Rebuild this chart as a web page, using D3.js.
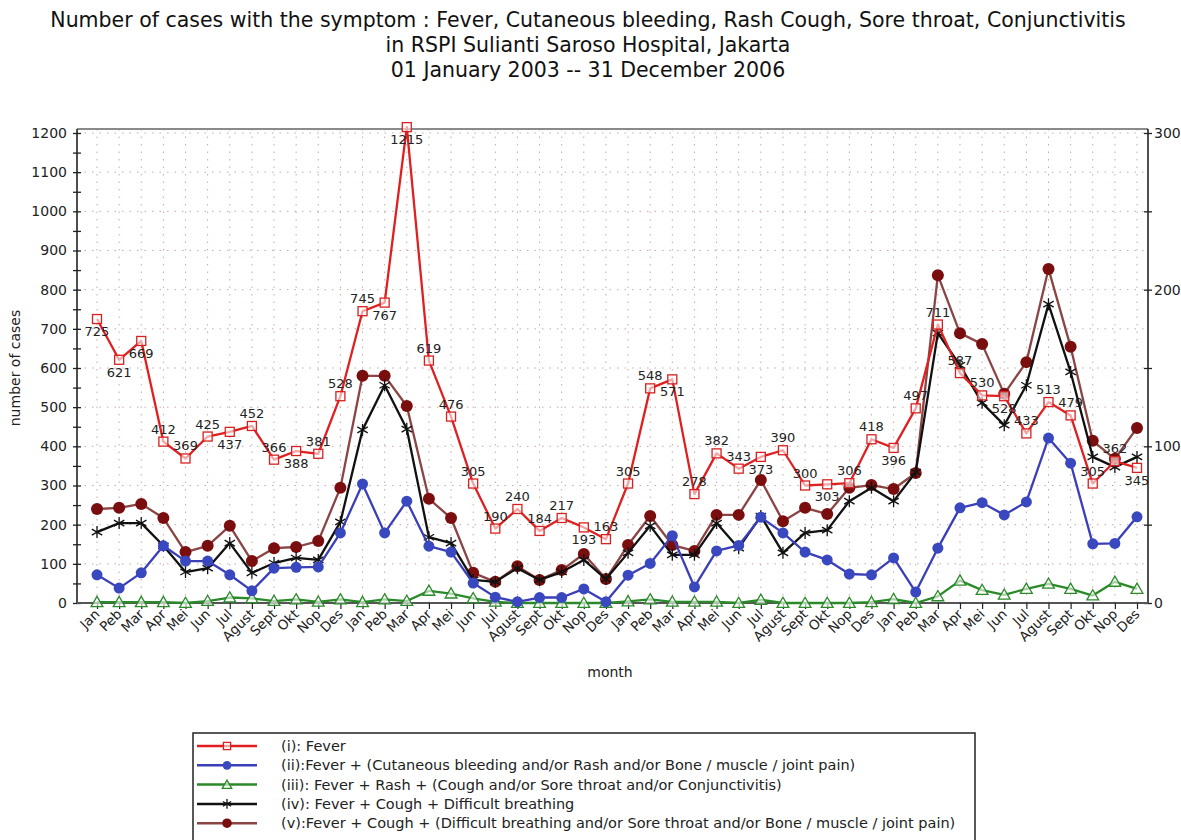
<!DOCTYPE html>
<html>
<head>
<meta charset="utf-8">
<script src="https://cdn.jsdelivr.net/npm/d3@7"></script>
<style>
  html, body { margin: 0; padding: 0; background: #fff; }
  svg { display: block; font-family: "DejaVu Sans", Verdana, sans-serif; }
</style>
</head>
<body>
<svg id="chart" width="1181" height="840"></svg>
<script>
// ---------- data ----------
const monthNames = ["Jan","Peb","Mar","Apr","Mei","Jun","Jul","Agust","Sept","Okt","Nop","Des"];
const years = [2003, 2004, 2005, 2006];
const categories = years.flatMap(y => monthNames.map(m => m + " " + y));

const seriesFever = [725,621,669,412,369,425,437,452,366,388,381,528,
                     745,767,1215,619,476,305,190,240,184,217,193,163,
                     305,548,571,278,382,343,373,390,300,303,306,418,
                     396,497,711,587,530,528,433,513,479,305,362,345];
const seriesBleeding = [72,38,77,146,107,107,72,31,89,91,92,179,
                        304,179,260,145,130,51,15,3,14,14,36,3,
                        71,101,172,41,133,147,219,179,130,110,74,72,
                        115,28,140,243,256,225,258,421,357,151,152,220];
const seriesRash = [2,2,2,2,0,5,14,12,5,9,3,9,
                    2,9,5,31,24,12,3,0,0,0,0,0,
                    4,9,3,3,3,0,8,0,0,0,0,2,
                    10,0,17,57,33,21,36,49,36,19,54,36];
const seriesCoughBreath = [181,204,204,146,79,89,153,77,102,115,110,207,
                           442,556,444,168,153,59,54,89,59,79,110,61,
                           128,197,123,123,204,140,222,128,179,186,260,294,
                           260,334,689,607,511,454,556,763,590,373,347,373];
const seriesCoughOther = [240,243,253,217,130,146,197,107,140,143,158,294,
                          580,580,503,266,217,77,54,94,59,84,125,61,
                          148,222,148,133,225,225,314,209,243,227,294,301,
                          291,332,837,689,661,534,615,853,654,414,368,447];

const leftTicks = [0,100,200,300,400,500,600,700,800,900,1000,1100,1200];
const rightTicks = [0,100,200,300];

const titleLines = [
  "Number of cases with the symptom : Fever, Cutaneous bleeding, Rash Cough, Sore throat, Conjunctivitis",
  "in RSPI Sulianti Saroso Hospital, Jakarta",
  "01 January 2003 -- 31 December 2006"
];
const legendLabels = [
  "(i): Fever",
  "(ii):Fever + (Cutaneous bleeding and/or Rash and/or Bone / muscle / joint pain)",
  "(iii): Fever + Rash + (Cough and/or Sore throat and/or Conjunctivitis)",
  "(iv): Fever + Cough + Difficult breathing",
  "(v):Fever + Cough + (Difficult breathing and/or Sore throat and/or Bone / muscle / joint pain)"
];

// ---------- styling ----------
const series = [
  {name: legendLabels[4], values: seriesCoughOther,   line: "#8a4444", mark: "#7a0e0e", marker: "dot",      r: 6},
  {name: legendLabels[3], values: seriesCoughBreath,  line: "#111111", mark: "#111111", marker: "star",     r: 6},
  {name: legendLabels[2], values: seriesRash,         line: "#2a8a2a", mark: "#2a8a2a", marker: "triangle", r: 5},
  {name: legendLabels[1], values: seriesBleeding,     line: "#3a3fb8", mark: "#3a48c0", marker: "circle",   r: 5.5},
  {name: legendLabels[0], values: seriesFever,        line: "#e02020", mark: "#d82020", marker: "square",   r: 4.5, labels: true}
];
const legendOrder = [4,3,2,1,0];

const svg = d3.select("#chart");
const plot = {left: 77, right: 1148, top: 129, bottom: 603};

const x = d3.scaleLinear().domain([0, categories.length - 1]).range([97, 1137]);
const y = d3.scaleLinear().domain([0, 1200]).range([603, 133]);
const yR = d3.scaleLinear().domain([0, 300]).range([603, 133]);

// ---------- title ----------
svg.append("g").selectAll("text").data(titleLines).join("text")
  .attr("x", 588).attr("y", (d,i) => 27 + i*25)
  .attr("text-anchor", "middle")
  .attr("font-size", 20.5)
  .attr("fill", "#111")
  .text(d => d);

// ---------- grid ----------
const grid = svg.append("g");
grid.selectAll("line.h").data(leftTicks).join("line")
  .attr("x1", plot.left).attr("x2", plot.right)
  .attr("y1", d => y(d)).attr("y2", d => y(d))
  .attr("stroke", "#c9a9a9").attr("stroke-width", 1).attr("stroke-dasharray", "1.5,6");
grid.selectAll("line.v").data(d3.range(categories.length)).join("line")
  .attr("x1", d => x(d)).attr("x2", d => x(d))
  .attr("y1", plot.top).attr("y2", plot.bottom)
  .attr("stroke", "#c9a9a9").attr("stroke-width", 1).attr("stroke-dasharray", "1.5,6");

// top frame
svg.append("line").attr("x1", plot.left).attr("x2", plot.right)
  .attr("y1", plot.top).attr("y2", plot.top).attr("stroke", "#8a8a8a").attr("stroke-width", 2);

// ---------- axes ----------
const leftMinor = d3.range(0, 1201, 50);
const ax = d3.axisLeft(y).tickValues(leftMinor).tickSize(4).tickPadding(6)
  .tickFormat(d => d % 100 === 0 ? d : "");
const gL = svg.append("g").attr("transform", `translate(${plot.left},0)`).call(ax);
gL.select(".domain").attr("stroke", "#222").attr("stroke-width", 1.6).attr("d", `M0,${plot.top}V${plot.bottom}`);
gL.selectAll(".tick line").attr("x1", 4).attr("stroke", "#222").attr("stroke-width", 1.3);
gL.selectAll(".tick text").attr("font-size", 14).attr("fill", "#222").attr("font-family", "DejaVu Sans, sans-serif");

const rightMinor = d3.range(0, 301, 50);
const axR = d3.axisRight(yR).tickValues(rightMinor).tickSize(4).tickPadding(2)
  .tickFormat(d => rightTicks.includes(d) ? d : "");
const gR = svg.append("g").attr("transform", `translate(${plot.right},0)`).call(axR);
gR.select(".domain").attr("stroke", "#222").attr("stroke-width", 1.6).attr("d", `M0,${plot.top}V${plot.bottom}`);
gR.selectAll(".tick line").attr("x1", -4).attr("stroke", "#222").attr("stroke-width", 1.3);
gR.selectAll(".tick text").attr("font-size", 14).attr("fill", "#222").attr("font-family", "DejaVu Sans, sans-serif");

const axB = d3.axisBottom(x).tickValues(d3.range(categories.length)).tickSize(6)
  .tickFormat(i => monthNames[i % 12]);
const gB = svg.append("g").attr("transform", `translate(0,${plot.bottom})`).call(axB);
gB.select(".domain").attr("stroke", "#555").attr("stroke-width", 2).attr("d", `M${plot.left},0H${plot.right}`);
gB.selectAll(".tick line").attr("stroke", "#222").attr("stroke-width", 1.2);
gB.selectAll(".tick text")
  .attr("font-size", 13.5).attr("fill", "#222").attr("font-family", "DejaVu Sans, sans-serif")
  .attr("text-anchor", "end")
  .attr("dy", null).attr("y", 0)
  .attr("transform", "translate(3,12) rotate(-45)");

// axis titles
svg.append("text").attr("x", 610).attr("y", 677).attr("text-anchor", "middle")
  .attr("font-size", 14).attr("fill", "#222").text("month");
svg.append("text").attr("transform", "translate(20,368) rotate(-90)").attr("text-anchor", "middle")
  .attr("font-size", 14).attr("fill", "#222").text("number of cases");

// ---------- markers ----------
function drawMarker(g, type, cx, cy, s, color) {
  if (type === "square") {
    g.append("rect").attr("x", cx - s).attr("y", cy - s).attr("width", 2*s).attr("height", 2*s)
      .attr("fill", "#fff").attr("fill-opacity", 0.6).attr("stroke", color).attr("stroke-width", 1.3);
  } else if (type === "circle" || type === "dot") {
    g.append("circle").attr("cx", cx).attr("cy", cy).attr("r", s).attr("fill", color);
  } else if (type === "triangle") {
    g.append("path").attr("d", d3.symbol(d3.symbolTriangle, s*s*2.4)())
      .attr("transform", `translate(${cx},${cy+1})`)
      .attr("fill", "#fff").attr("fill-opacity", 0.6).attr("stroke", color).attr("stroke-width", 1.3);
  } else if (type === "star") {
    const p = [];
    for (let k = 0; k < 3; k++) {
      const a = Math.PI/2 + k*Math.PI/3;
      p.push(`M${cx - s*Math.cos(a)},${cy - s*Math.sin(a)}L${cx + s*Math.cos(a)},${cy + s*Math.sin(a)}`);
    }
    g.append("path").attr("d", p.join("")).attr("stroke", color).attr("stroke-width", 1.3).attr("fill", "none");
  }
}

// ---------- label placement (simple collision avoidance) ----------
function placeLabels(values) {
  const placed = [];
  const w = 25, h = 12;
  return values.map((v, i) => {
    const px = x(i), py = y(v);
    const above = py - 8, below = py + 17;
    const pref = (py < 160 || i < 3) ? [below, above] : [above, below];
    const hits = ly => placed.some(b => Math.abs(b.x - px) < w && Math.abs(b.y - ly) < h);
    let ly = pref.find(c => !hits(c));
    if (ly === undefined) ly = pref[0];
    placed.push({x: px, y: ly});
    return {x: px, y: ly, v};
  });
}

// ---------- lines ----------
const lineGen = d3.line().x((d,i) => x(i)).y(d => y(d));
series.forEach(s => {
  const g = svg.append("g");
  g.append("path").datum(s.values).attr("d", lineGen)
    .attr("fill", "none").attr("stroke", s.line).attr("stroke-width", 2.3).attr("stroke-linejoin", "round");
  s.values.forEach((v,i) => drawMarker(g, s.marker, x(i), y(v), s.r, s.mark));
  if (s.labels) {
    g.selectAll("text.lbl").data(placeLabels(s.values)).join("text")
      .attr("x", d => d.x)
      .attr("y", d => d.y)
      .attr("text-anchor", "middle")
      .attr("font-size", 13).attr("fill", "#222")
      .text(d => d.v);
  }
});

// ---------- legend ----------
const lg = svg.append("g");
lg.append("rect").attr("x", 193).attr("y", 733).attr("width", 782).attr("height", 120)
  .attr("fill", "#fff").attr("stroke", "#222").attr("stroke-width", 1.5);
legendOrder.forEach((si, row) => {
  const s = series[si];
  const cy = 746 + row * 19.3;
  lg.append("line").attr("x1", 197).attr("x2", 257).attr("y1", cy).attr("y2", cy)
    .attr("stroke", s.line).attr("stroke-width", 2.5);
  drawMarker(lg, s.marker, 227, cy, s.r * 0.8, s.mark);
  lg.append("text").attr("x", 281).attr("y", cy + 5)
    .attr("font-size", 14.5).attr("fill", "#222").text(s.name);
});
</script>
</body>
</html>
